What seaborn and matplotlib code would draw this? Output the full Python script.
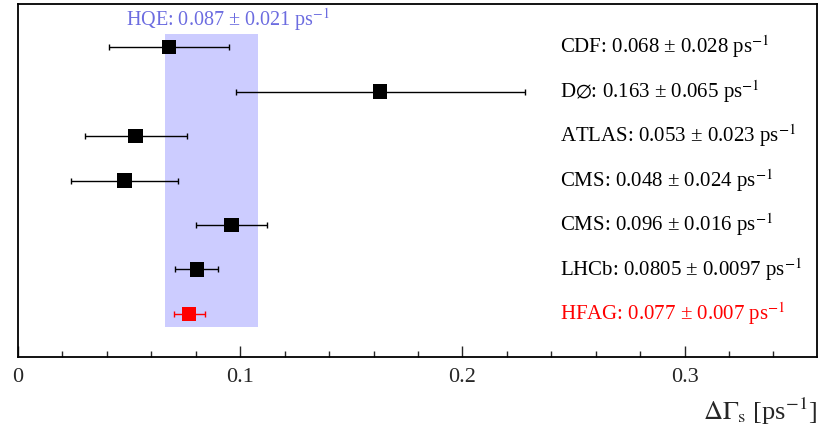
import matplotlib
matplotlib.use("Agg")
import matplotlib.pyplot as plt
import seaborn as sns
import pandas as pd
from matplotlib.ticker import MultipleLocator, FuncFormatter

experiments = ["CDF", "D$\\emptyset$", "ATLAS", "CMS", "CMS", "LHCb", "HFAG"]
values = [0.068, 0.163, 0.053, 0.048, 0.096, 0.0805, 0.077]
errors = [0.027, 0.065, 0.023, 0.024, 0.016, 0.0097, 0.007]
label_vals = ["0.068", "0.163", "0.053", "0.048", "0.096", "0.0805", "0.077"]
label_errs = ["0.028", "0.065", "0.023", "0.024", "0.016", "0.0097", "0.007"]
colors = ["black"] * 6 + ["#ff0000"]
hqe_value, hqe_error = 0.087, 0.021

sns.set_theme(style="ticks")
plt.rcParams["font.family"] = ["Liberation Serif", "DejaVu Serif"]
plt.rcParams["mathtext.fontset"] = "stix"

df = pd.DataFrame({"exp": experiments, "val": values, "err": errors,
                   "row": range(len(values)), "col": colors})

fig = plt.figure(figsize=(8.19, 4.30), dpi=100)
ax = fig.add_axes([18/819, 1-357/430, 799/819, 353/430])

# HQE band
ax.fill_betweenx([-0.3, len(values) - 1 + 0.3], hqe_value - hqe_error, hqe_value + hqe_error,
                 color="#ccccff", lw=0, zorder=0)

for _, r in df.iterrows():
    ax.errorbar(r["val"], r["row"], xerr=r["err"], fmt="none", ecolor=r["col"],
                elinewidth=1.0, capsize=2.5, capthick=1.0, zorder=2)

sns.scatterplot(data=df, x="val", y="row", hue="col", palette={c: c for c in set(colors)},
                marker="s", s=110, edgecolor="none", legend=False, ax=ax, zorder=3)

for i, r in df.iterrows():
    ax.text(0.2440, r["row"], f"{r['exp']}: {label_vals[i]} \u00b1 {label_errs[i]} ps$^{{-1}}$",
            color=r["col"], fontsize=15, va="center", ha="left")

ax.text(0.0485, -0.62, f"HQE: {hqe_value} \u00b1 {hqe_error} ps$^{{-1}}$", color="#6c6ce0",
        fontsize=14.5, va="center", ha="left")

ax.set_xlim(0, 0.3596)
ax.set_ylim(len(values) - 1 + 0.97, -0.97)
ax.set_yticks([])
ax.set_ylabel("")
ax.set_xlabel("$\\Delta\\Gamma_\\mathrm{s}$ [ps$^{-1}$]", fontsize=19, loc="right", labelpad=6)
ax.xaxis.set_major_locator(MultipleLocator(0.1))
ax.xaxis.set_minor_locator(MultipleLocator(0.02))
ax.xaxis.set_major_formatter(FuncFormatter(lambda v, p: "0" if abs(v) < 1e-9 else f"{v:g}"))
ax.tick_params(axis="x", which="major", direction="in", length=8, width=1, labelsize=16, pad=8)
ax.tick_params(axis="x", which="minor", direction="in", length=4, width=1)
ax.tick_params(axis="x", top=False)
for s in ax.spines.values():
    s.set_linewidth(1.3)
    s.set_color("black")
    s.set_visible(True)

fig.savefig("out.png", dpi=100)
